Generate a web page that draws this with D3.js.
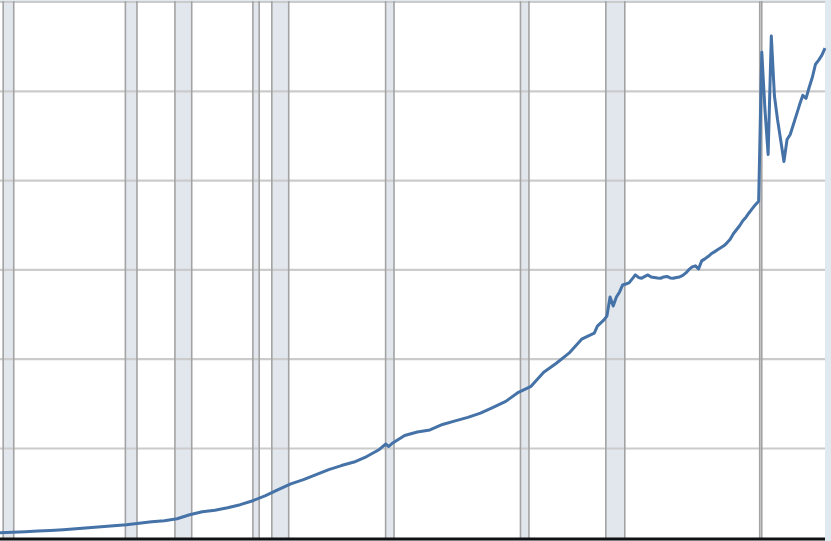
<!DOCTYPE html>
<html>
<head>
<meta charset="utf-8">
<script src="https://cdn.jsdelivr.net/npm/d3@7"></script>
<style>
  html, body { margin: 0; padding: 0; background: #e1e9f0; }
  svg { display: block; }
</style>
</head>
<body>
<svg id="chart" width="831" height="541"></svg>
<script>
// ---- data (in chart units; gridlines every 2) ----
const dates = [
  "1960-01","1961-01","1962-01","1963-01","1964-01","1965-01","1966-01","1967-01","1968-01","1969-01",
  "1970-01","1971-01","1972-01","1973-01","1974-01","1975-01","1976-01","1977-01","1978-01","1979-01",
  "1980-01","1981-01","1982-01","1983-01","1984-01","1985-01","1986-01","1987-01","1988-01","1989-01",
  "1990-01","1990-07","1990-10","1991-01","1992-01","1993-01","1994-01","1995-01","1996-01","1997-01",
  "1998-01","1999-01","2000-01","2001-01","2002-01","2003-01","2004-01","2005-01","2006-01",
  "2007-01","2007-04","2007-07","2007-10","2008-01","2008-04","2008-07","2008-10",
  "2009-01","2009-04","2009-07","2009-10","2010-01","2010-04","2010-07","2010-10",
  "2011-01","2011-04","2011-07","2011-10","2012-01","2012-04","2012-07","2012-10",
  "2013-01","2013-04","2013-07","2013-10","2014-01","2014-04","2014-07","2014-10",
  "2015-01","2015-04","2015-07","2015-10","2016-01","2016-04","2016-07","2016-10",
  "2017-01","2017-04","2017-07","2017-10","2018-01","2018-04","2018-07","2018-10",
  "2019-01","2019-04","2019-07","2019-10","2020-01","2020-04","2020-07","2020-10",
  "2021-01","2021-04","2021-07","2021-10","2022-01","2022-04","2022-07","2022-10",
  "2023-01","2023-04","2023-07","2023-10","2024-01","2024-04","2024-07","2024-10",
  "2025-01","2025-04"
];
const values = [
  0.112,0.124,0.135,0.151,0.164,0.180,0.202,0.225,0.247,0.270,
  0.292,0.326,0.360,0.382,0.427,0.517,0.584,0.618,0.674,0.742,
  0.831,0.944,1.079,1.207,1.303,1.416,1.528,1.618,1.697,1.820,
  1.978,2.100,2.045,2.112,2.292,2.371,2.416,2.539,2.618,2.697,
  2.793,2.921,3.056,3.258,3.393,3.708,3.910,4.135,4.449,
  4.584,4.742,4.809,4.876,4.966,5.393,5.191,5.393,
  5.506,5.663,5.685,5.708,5.798,5.888,5.831,5.813,
  5.854,5.888,5.843,5.831,5.820,5.813,5.843,5.854,
  5.820,5.813,5.831,5.843,5.876,5.933,6.011,6.067,
  6.090,6.022,6.202,6.247,6.299,6.360,6.404,6.449,
  6.494,6.539,6.607,6.685,6.809,6.899,6.989,7.101,
  7.180,7.281,7.371,7.461,7.539,10.876,9.596,8.584,
  11.236,9.900,9.360,8.900,8.427,8.921,9.034,9.258,
  9.483,9.708,9.910,9.843,10.090,10.315,10.607,10.697,
  10.809,10.966
];
const recessionStarts = ["1960-04","1969-12","1973-11","1980-01","1981-07","1990-07","2001-03","2007-12","2020-02"];
const recessionEnds   = ["1961-02","1970-11","1975-03","1980-07","1982-11","1991-03","2001-11","2009-06","2020-04"];
const gridValues = [0, 2, 4, 6, 8, 10, 12];

// ---- drawing ----
const parse = d3.timeParse("%Y-%m");
const series = dates.map((d, i) => ({ date: parse(d), value: values[i] }));
const recessions = recessionStarts.map((s, i) => ({ start: parse(s), end: parse(recessionEnds[i]) }));

const plot = { left: 0, right: 825, top: 1, bottom: 538 };

const x = d3.scaleTime()
  .domain([parse("1960-01"), parse("2025-04")])
  .range([plot.left, plot.right]);
const y = d3.scaleLinear()
  .domain([0, 12])
  .range([537.8, 2]);

const svg = d3.select("#chart");

svg.append("rect")
  .attr("x", plot.left).attr("y", plot.top)
  .attr("width", plot.right - plot.left).attr("height", plot.bottom - plot.top)
  .attr("fill", "#ffffff");

// recession shading
svg.append("g").selectAll("rect").data(recessions).join("rect")
  .attr("x", d => x(d.start))
  .attr("width", d => Math.max(1, x(d.end) - x(d.start)))
  .attr("y", plot.top).attr("height", plot.bottom - plot.top)
  .attr("fill", "#e2e7ee");

// horizontal gridlines
svg.append("g").selectAll("line").data(gridValues.filter(v => v > 0)).join("line")
  .attr("x1", plot.left).attr("x2", plot.right)
  .attr("y1", d => y(d)).attr("y2", d => y(d))
  .attr("stroke", "#cbcbcb").attr("stroke-width", 2.2);

// recession edges
const edges = [];
recessions.forEach(r => { edges.push(r.start); edges.push(r.end); });
svg.append("g").selectAll("line").data(edges).join("line")
  .attr("x1", d => x(d)).attr("x2", d => x(d))
  .attr("y1", plot.top).attr("y2", plot.bottom)
  .attr("stroke", "#a3a3a3").attr("stroke-width", 1.6);

// bottom axis line
svg.append("line")
  .attr("x1", plot.left).attr("x2", plot.right)
  .attr("y1", 539).attr("y2", 539)
  .attr("stroke", "#111").attr("stroke-width", 3);

// data line
const line = d3.line().x(d => x(d.date)).y(d => y(d.value));
svg.append("path")
  .datum(series)
  .attr("d", line)
  .attr("fill", "none")
  .attr("stroke", "#4572a7")
  .attr("stroke-width", 3)
  .attr("stroke-linejoin", "round");
</script>
</body>
</html>
